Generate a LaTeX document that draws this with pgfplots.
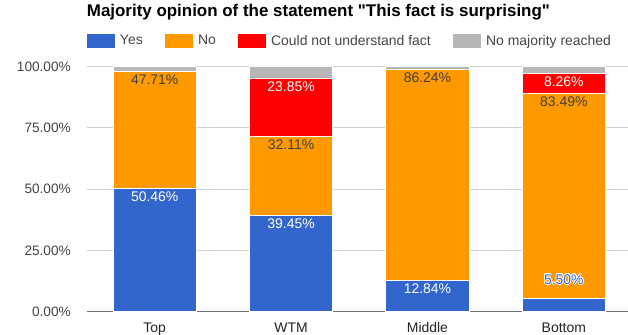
\documentclass[border=0pt]{standalone}
\usepackage{fontspec}
\setmainfont{Liberation Sans}
\newfontfamily\titlefont{Liberation Sans}
\usepackage{pgfplots}
\pgfplotsset{compat=1.18}
\definecolor{cyes}{HTML}{3366CC}
\definecolor{cno}{HTML}{FF9900}
\definecolor{ccnu}{HTML}{FF0000}
\definecolor{cnm}{HTML}{B7B7B7}
\definecolor{txtdark}{HTML}{222222}
\definecolor{txtmid}{HTML}{444444}
\newcommand\hcopy[3]{\makebox[0pt]{\raisebox{#2}{\hspace*{#1}\textcolor{white}{#3}}}}
\protected\def\lbl#1{\raisebox{\dimexpr #1bp*49/40-13.3bp\relax}[0pt][0pt]{#1\%}}
\protected\def\lowlbl#1{\raisebox{20.7bp}[0pt][0pt]{%
  \hcopy{1.6bp}{0bp}{#1}\hcopy{-1.6bp}{0bp}{#1}\hcopy{0bp}{0.8bp}{#1}\hcopy{0bp}{-0.8bp}{#1}%
  \hcopy{1.2bp}{0.6bp}{#1}\hcopy{-1.2bp}{0.6bp}{#1}\hcopy{1.2bp}{-0.6bp}{#1}\hcopy{-1.2bp}{-0.6bp}{#1}%
  \makebox[0pt]{\textcolor{cyes}{#1}}}}
\begin{document}
\fontsize{14}{16}\selectfont
\begin{tikzpicture}
\useasboundingbox (0,0) rectangle (628bp,335bp);
\begin{axis}[
  at={(86.5bp,23.3bp)}, anchor=south west,
  scale only axis, width=545.5bp, height=245bp,
  xmin=-0.5, xmax=3.5, ymin=0, ymax=100,
  ybar stacked, bar width=83.3bp,
  xtick={0,1,2,3}, xticklabels={Top,WTM,Middle,Bottom},
  ytick={0,25,50,75,100},
  yticklabels={0.00\%,25.00\%,50.00\%,75.00\%,100.00\%},
  ymajorgrids, grid style={draw=black!18, line width=0.9bp},
  axis line style={draw=none},
  major tick length=0pt, tick style={draw=none},
  yticklabel style={font=\fontsize{13.7}{16}\selectfont, text=txtmid, anchor=east, inner sep=0pt, xshift=-15.5bp},
  xticklabel style={font=\fontsize{14}{16}\selectfont, text=txtdark, anchor=north, inner sep=0pt, yshift=-10.8bp},
  title={Majority opinion of the statement {\char34}This fact is surprising{\char34}},
  title style={at={(0,1)}, anchor=base west, inner sep=0pt, yshift=44.2bp, xshift=0.2bp, font=\fontsize{17}{20}\selectfont\titlefont\bfseries},
  legend columns=4,
  legend style={at={(0,1)}, anchor=west, yshift=25.7bp, draw=none, inner sep=0pt, outer sep=0pt,
    font=\fontsize{14}{16}\selectfont, text=txtmid,
    /tikz/every odd column/.append style={column sep=3.5bp},
    /tikz/every even column/.append style={column sep=19.8bp}},
  legend cell align=left,
  legend image code/.code={\path[#1,draw=none] (0bp,-6.7bp) rectangle (28bp,6.7bp);},
  every axis plot/.append style={draw=white, line width=0.8bp},
  point meta=explicit symbolic,
  every node near coord/.append style={inner sep=0pt},
]
\addplot[fill=cyes, nodes near coords, every node near coord/.append style={text=white}]
  coordinates {(0,50.46) [\lbl{50.46}] (1,39.45) [\lbl{39.45}] (2,12.84) [\lbl{12.84}] (3,5.50) [\lowlbl{5.50\%}]};
\addlegendentry{Yes}
\addplot[fill=cno, nodes near coords, every node near coord/.append style={text=black!75}]
  coordinates {(0,47.71) [\lbl{47.71}] (1,32.11) [\lbl{32.11}] (2,86.24) [\lbl{86.24}] (3,83.49) [\lbl{83.49}]};
\addlegendentry{No}
\addplot[fill=ccnu, nodes near coords, every node near coord/.append style={text=white}]
  coordinates {(0,0) [{}] (1,23.85) [\lbl{23.85}] (2,0) [{}] (3,8.26) [\lbl{8.26}]};
\addlegendentry{Could not understand fact}
\addplot[fill=cnm]
  coordinates {(0,1.83) (1,4.59) (2,0.92) (3,2.75)};
\addlegendentry{No majority reached}
\draw[black!55, line width=1.1bp] (rel axis cs:0,0) -- (rel axis cs:1,0);
\end{axis}
\end{tikzpicture}
\end{document}
